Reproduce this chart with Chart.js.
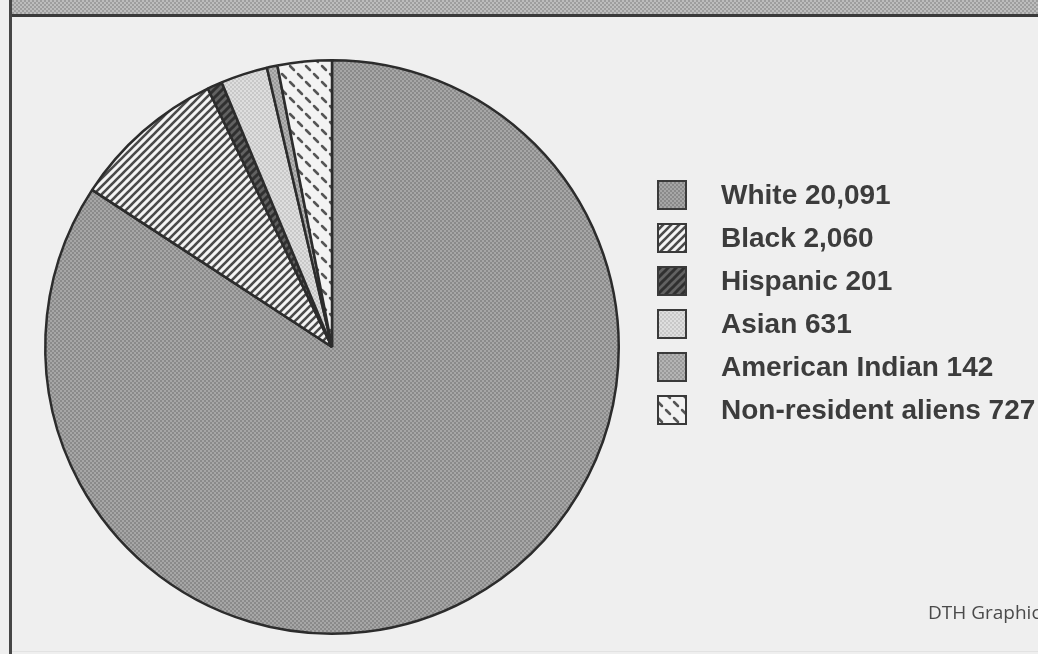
<!DOCTYPE html>
<html lang="en">
<head>
    <meta charset="UTF-8">
    <title>Enrollment by race</title>
    <script src="https://cdn.jsdelivr.net/npm/chart.js"></script>
    <style>
        html, body { margin: 0; padding: 0; background: #efefef; overflow: hidden; }
        #wrap { position: relative; width: 1038px; height: 654px; }
    </style>
</head>
<body>
    <div id="wrap"><canvas id="pieChart" width="1038" height="654"></canvas></div>

    <script>
        const groups = ['White', 'Black', 'Hispanic', 'Asian', 'American Indian', 'Non-resident aliens'];
        const students = [20091, 2060, 201, 631, 142, 727];
        const credit = 'DTH Graphics';

        const ctx = document.getElementById('pieChart').getContext('2d');

        // little tiles used as fills, like the newspaper screens
        function makePattern(size, draw) {
            const c = document.createElement('canvas');
            c.width = size;
            c.height = size;
            draw(c.getContext('2d'), size);
            return ctx.createPattern(c, 'repeat');
        }

        function checker(a, b) {
            return makePattern(4, (g) => {
                g.fillStyle = a;
                g.fillRect(0, 0, 4, 4);
                g.fillStyle = b;
                g.fillRect(0, 0, 2, 2);
                g.fillRect(2, 2, 2, 2);
            });
        }

        function stripes(bg, fg, w) {
            return makePattern(8, (g) => {
                g.fillStyle = bg;
                g.fillRect(0, 0, 8, 8);
                g.strokeStyle = fg;
                g.lineWidth = w;
                [[-4, 4, 4, -4], [0, 8, 8, 0], [4, 12, 12, 4]].forEach(([x1, y1, x2, y2]) => {
                    g.beginPath();
                    g.moveTo(x1, y1);
                    g.lineTo(x2, y2);
                    g.stroke();
                });
            });
        }

        const dashes = makePattern(16, (g) => {
            g.fillStyle = '#f3f3f3';
            g.fillRect(0, 0, 16, 16);
            g.strokeStyle = '#555555';
            g.lineWidth = 2.5;
            g.lineCap = 'round';
            [[2, 2], [10, 10]].forEach(([x, y]) => {
                g.beginPath();
                g.moveTo(x, y);
                g.lineTo(x + 4, y + 4);
                g.stroke();
            });
        });

        const fills = [
            checker('#a6a6a6', '#8a8a8a'),
            stripes('#f4f4f4', '#4a4a4a', 2.6),
            stripes('#626262', '#303030', 3),
            checker('#dedede', '#c8c8c8'),
            checker('#b4b4b4', '#9a9a9a'),
            dashes
        ];

        const headerFill = checker('#bdbdbd', '#9e9e9e');

        // background, page frame and header strip
        const framePlugin = {
            id: 'frame',
            beforeDraw(chart) {
                const g = chart.ctx;
                g.save();
                g.fillStyle = '#efefef';
                g.fillRect(0, 0, chart.width, chart.height);
                g.fillStyle = headerFill;
                g.fillRect(12, 0, chart.width - 12, 14);
                g.fillStyle = '#3a3a3a';
                g.fillRect(9, 14, chart.width - 9, 3);
                g.fillStyle = '#464646';
                g.fillRect(9, 0, 3, chart.height);
                g.fillStyle = '#e2e2e2';
                g.fillRect(12, chart.height - 3, chart.width - 12, 1);
                g.restore();
            }
        };

        // legend on the right, same fills as the slices
        const legendPlugin = {
            id: 'sideLegend',
            afterDraw(chart) {
                const g = chart.ctx;
                const ds = chart.data.datasets[0];
                g.save();
                chart.data.labels.forEach((label, i) => {
                    const cy = 195 + i * 43;
                    g.fillStyle = ds.backgroundColor[i];
                    g.fillRect(658, cy - 14, 28, 28);
                    g.strokeStyle = '#3a3a3a';
                    g.lineWidth = 2;
                    g.strokeRect(658, cy - 14, 28, 28);
                    g.fillStyle = '#3c3c3c';
                    g.font = 'bold 28px "Liberation Sans", Arial, sans-serif';
                    g.textBaseline = 'middle';
                    g.fillText(label + ' ' + ds.data[i].toLocaleString('en-US'), 721, cy + 1);
                });
                g.fillStyle = '#4a4a4a';
                g.font = '19px "Open Sans", sans-serif';
                g.textBaseline = 'alphabetic';
                g.fillText(credit, 928, 619);
                g.restore();
            }
        };

        const pieChart = new Chart(ctx, {
            type: 'pie',
            data: {
                labels: groups,
                datasets: [{
                    data: students,
                    backgroundColor: fills,
                    borderColor: '#2c2c2c',
                    borderWidth: 2.5,
                    hoverOffset: 0
                }]
            },
            options: {
                responsive: false,
                animation: false,
                layout: { padding: { top: 59, bottom: 19, left: 44, right: 418 } },
                plugins: {
                    legend: { display: false },
                    tooltip: { enabled: false }
                }
            },
            plugins: [framePlugin, legendPlugin]
        });
    </script>
</body>
</html>
